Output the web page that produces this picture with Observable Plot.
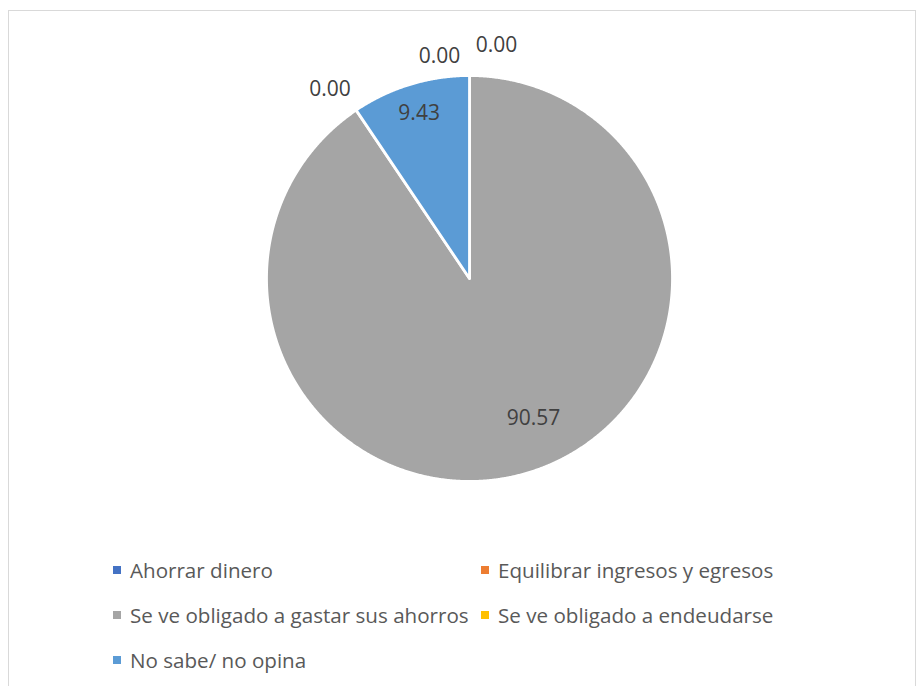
<!DOCTYPE html>
<html>
<head>
<meta charset="utf-8">
<script src="https://cdn.jsdelivr.net/npm/d3@7"></script>
<script src="https://cdn.jsdelivr.net/npm/@observablehq/plot@0.6"></script>
<style>
  html, body { margin: 0; padding: 0; background: #fff; }
  #wrap { position: relative; width: 918px; height: 686px; overflow: hidden; font-family: "Open Sans", Lato, sans-serif; }
  #frame { position: absolute; left: 8px; top: 10px; width: 908px; height: 700px; border: 1.5px solid #d9d9d9; box-sizing: border-box; pointer-events: none; }
  #chart { position: absolute; left: 0; top: 0; }
  .item { position: absolute; display: flex; align-items: center; font-size: 20.6px; color: #595959; white-space: nowrap; line-height: 1; }
  .sw { width: 8px; height: 8px; margin-right: 9px; }
</style>
</head>
<body>
<div id="wrap">
  <div id="chart"></div>
  <div id="legend"></div>
  <div id="frame"></div>
</div>
<script>
const categories = [
  "Ahorrar dinero",
  "Equilibrar ingresos y egresos",
  "Se ve obligado a gastar sus ahorros",
  "Se ve obligado a endeudarse",
  "No sabe/ no opina"
];
const values = [0.00, 0.00, 90.57, 0.00, 9.43];
const colors = ["#4472C4", "#ED7D31", "#A5A5A5", "#FFC000", "#5B9BD5"];

// pie geometry (clockwise from 12 o'clock), computed from the values
const arcs = d3.pie().sort(null).value(d => d)(values);

const polys = [];
arcs.forEach((a, i) => {
  if (a.endAngle - a.startAngle <= 0) return;
  const cat = categories[i];
  polys.push({x: 0, y: 0, cat});
  const step = Math.PI / 720;
  for (let t = a.startAngle; t < a.endAngle; t += step) {
    polys.push({x: Math.sin(t), y: Math.cos(t), cat});
  }
  polys.push({x: Math.sin(a.endAngle), y: Math.cos(a.endAngle), cat});
  polys.push({x: 0, y: 0, cat});
});

const labels = arcs.map((a, i) => {
  const m = (a.startAngle + a.endAngle) / 2;
  const r = values[i] === 0 ? 1.16 : (values[i] > 50 ? 0.76 : 0.85);
  return {i, x: r * Math.sin(m), y: r * Math.cos(m), text: values[i].toFixed(2)};
});

// nudges mimicking the spreadsheet's best-fit label placement
const nudges = [[-30, 13], [27, 2], [19, -8], [-8, 6], [0, 0]];

const W = 918, H = 540;
const plot = Plot.plot({
  width: W,
  height: H,
  marginLeft: 266,
  marginRight: W - 672,
  marginTop: 75,
  marginBottom: H - 481,
  x: {domain: [-1, 1], axis: null},
  y: {domain: [-1, 1], axis: null},
  color: {domain: categories, range: colors},
  style: {background: "none", fontFamily: "'Open Sans', Lato, sans-serif"},
  marks: [
    Plot.line(polys, {x: "x", y: "y", z: "cat", fill: "cat", stroke: "white", strokeWidth: 2.8, strokeLinejoin: "round", curve: "linear"}),
    ...labels.map((l, k) => Plot.text([l], {
      x: "x", y: "y", text: "text",
      dx: nudges[k][0], dy: nudges[k][1],
      fontSize: 21, fill: "#404040"
    }))
  ]
});
document.getElementById("chart").appendChild(plot);

// legend (HTML, below the plot area)
const legend = document.getElementById("legend");
const colX = [113, 481];
categories.forEach((c, i) => {
  const col = i % 2, row = Math.floor(i / 2);
  const el = document.createElement("div");
  el.className = "item";
  el.style.left = colX[col] + "px";
  el.style.top = (570 + row * 45 - 10) + "px";
  el.style.height = "20px";
  const sw = document.createElement("span");
  sw.className = "sw";
  sw.style.background = colors[i];
  const tx = document.createElement("span");
  tx.textContent = c;
  el.appendChild(sw);
  el.appendChild(tx);
  legend.appendChild(el);
});
</script>
</body>
</html>
